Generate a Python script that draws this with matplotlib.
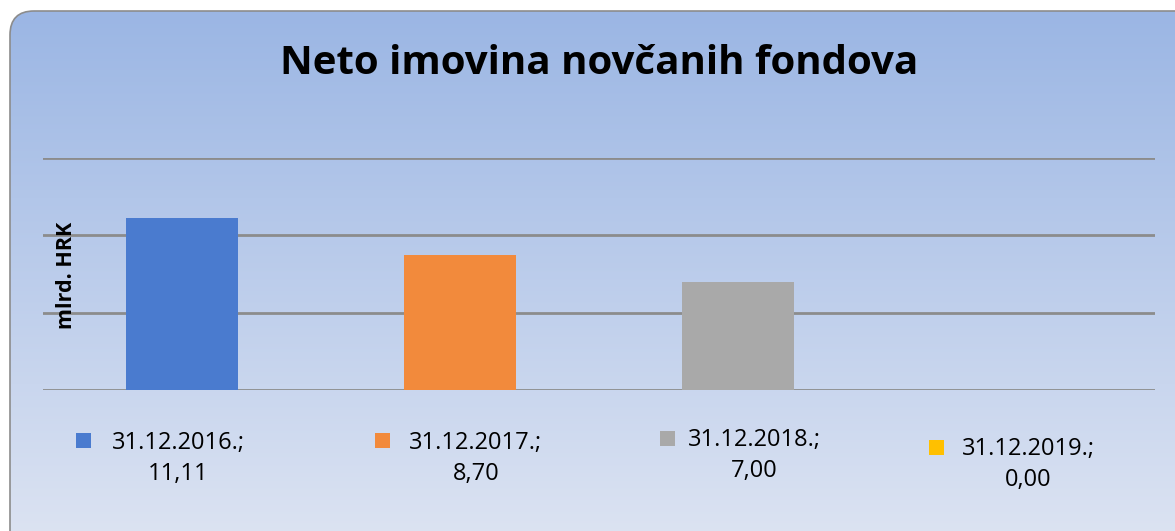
import numpy as np
import matplotlib
matplotlib.use("Agg")
import matplotlib.pyplot as plt
from matplotlib.patches import FancyBboxPatch, Rectangle

categories = ["31.12.2016.", "31.12.2017.", "31.12.2018.", "31.12.2019."]
values = [11.11, 8.70, 7.00, 0.00]
value_labels = ["11,11", "8,70", "7,00", "0,00"]
colors = ["#4A7BCF", "#F28A3C", "#A9A9A9", "#FFC000"]
title = "Neto imovina novčanih fondova"
ylabel = "mlrd. HRK"

FONT = ["Open Sans", "DejaVu Sans"]

W, H = 1175, 531
fig = plt.figure(figsize=(W / 100, H / 100), dpi=100)
fig.patch.set_facecolor("white")

# background panel with gradient (pixel coordinates)
bg = fig.add_axes([0, 0, 1, 1])
bg.set_xlim(0, W)
bg.set_ylim(H, 0)
bg.axis("off")
grad = np.linspace(0, 1, 256).reshape(-1, 1)
top = np.array([155, 182, 228]) / 255
bot = np.array([224, 230, 243]) / 255
img = top + (bot - top) * grad[..., None]
img = np.repeat(img, 2, axis=1)
panel = FancyBboxPatch((10, 11), 1200, 560, boxstyle="round,pad=0,rounding_size=24",
                       facecolor="none", edgecolor="#8C8C8C", linewidth=1.2, zorder=3)
bg.add_patch(panel)
im = bg.imshow(img, extent=[10, 1210, 571, 11], aspect="auto", zorder=1)
im.set_clip_path(panel)

# main axes
left, right = 43 / W, 1155 / W
bottom, topy = (H - 390) / H, (H - 158) / H
ax = fig.add_axes([left, bottom, right - left, topy - bottom])
ax.patch.set_alpha(0)
x = np.arange(len(categories))
ax.bar(x, values, width=0.4, color=colors, zorder=3)
ax.set_xlim(-0.5, len(categories) - 0.5)
ax.set_ylim(0, 15)
ax.set_yticks([0, 5, 10, 15])
ax.yaxis.grid(True, color="#8C8C8C", linewidth=2.0, zorder=0)
ax.set_axisbelow(True)
ax.tick_params(left=False, bottom=False, labelleft=False, labelbottom=False)
for s in ax.spines.values():
    s.set_visible(False)

fig.text(599.5 / W, 1 - 63 / H, title, ha="center", va="center",
         fontsize=29, fontweight="bold", family=FONT)
fig.text(67 / W, 1 - 275 / H, ylabel, rotation=90, ha="center", va="center",
         fontsize=15.5, fontweight="bold", family=FONT)

# legend (manual, staggered like the reference)
marker_pos = [(76, 433), (375, 433), (660, 431), (929, 440)]
text_pos = [(178, 443), (476, 443), (754, 440), (1028, 449)]
for i in range(len(categories)):
    mx, my = marker_pos[i]
    bg.add_patch(Rectangle((mx, my), 15, 15, facecolor=colors[i], edgecolor="none", zorder=4))
    tx, ty = text_pos[i]
    bg.text(tx, ty, categories[i] + ";", ha="center", va="center", fontsize=17,
            family=FONT, zorder=4)
    bg.text(tx, ty + 31, value_labels[i], ha="center", va="center", fontsize=17,
            family=FONT, zorder=4)

fig.savefig("out.png", dpi=100)
